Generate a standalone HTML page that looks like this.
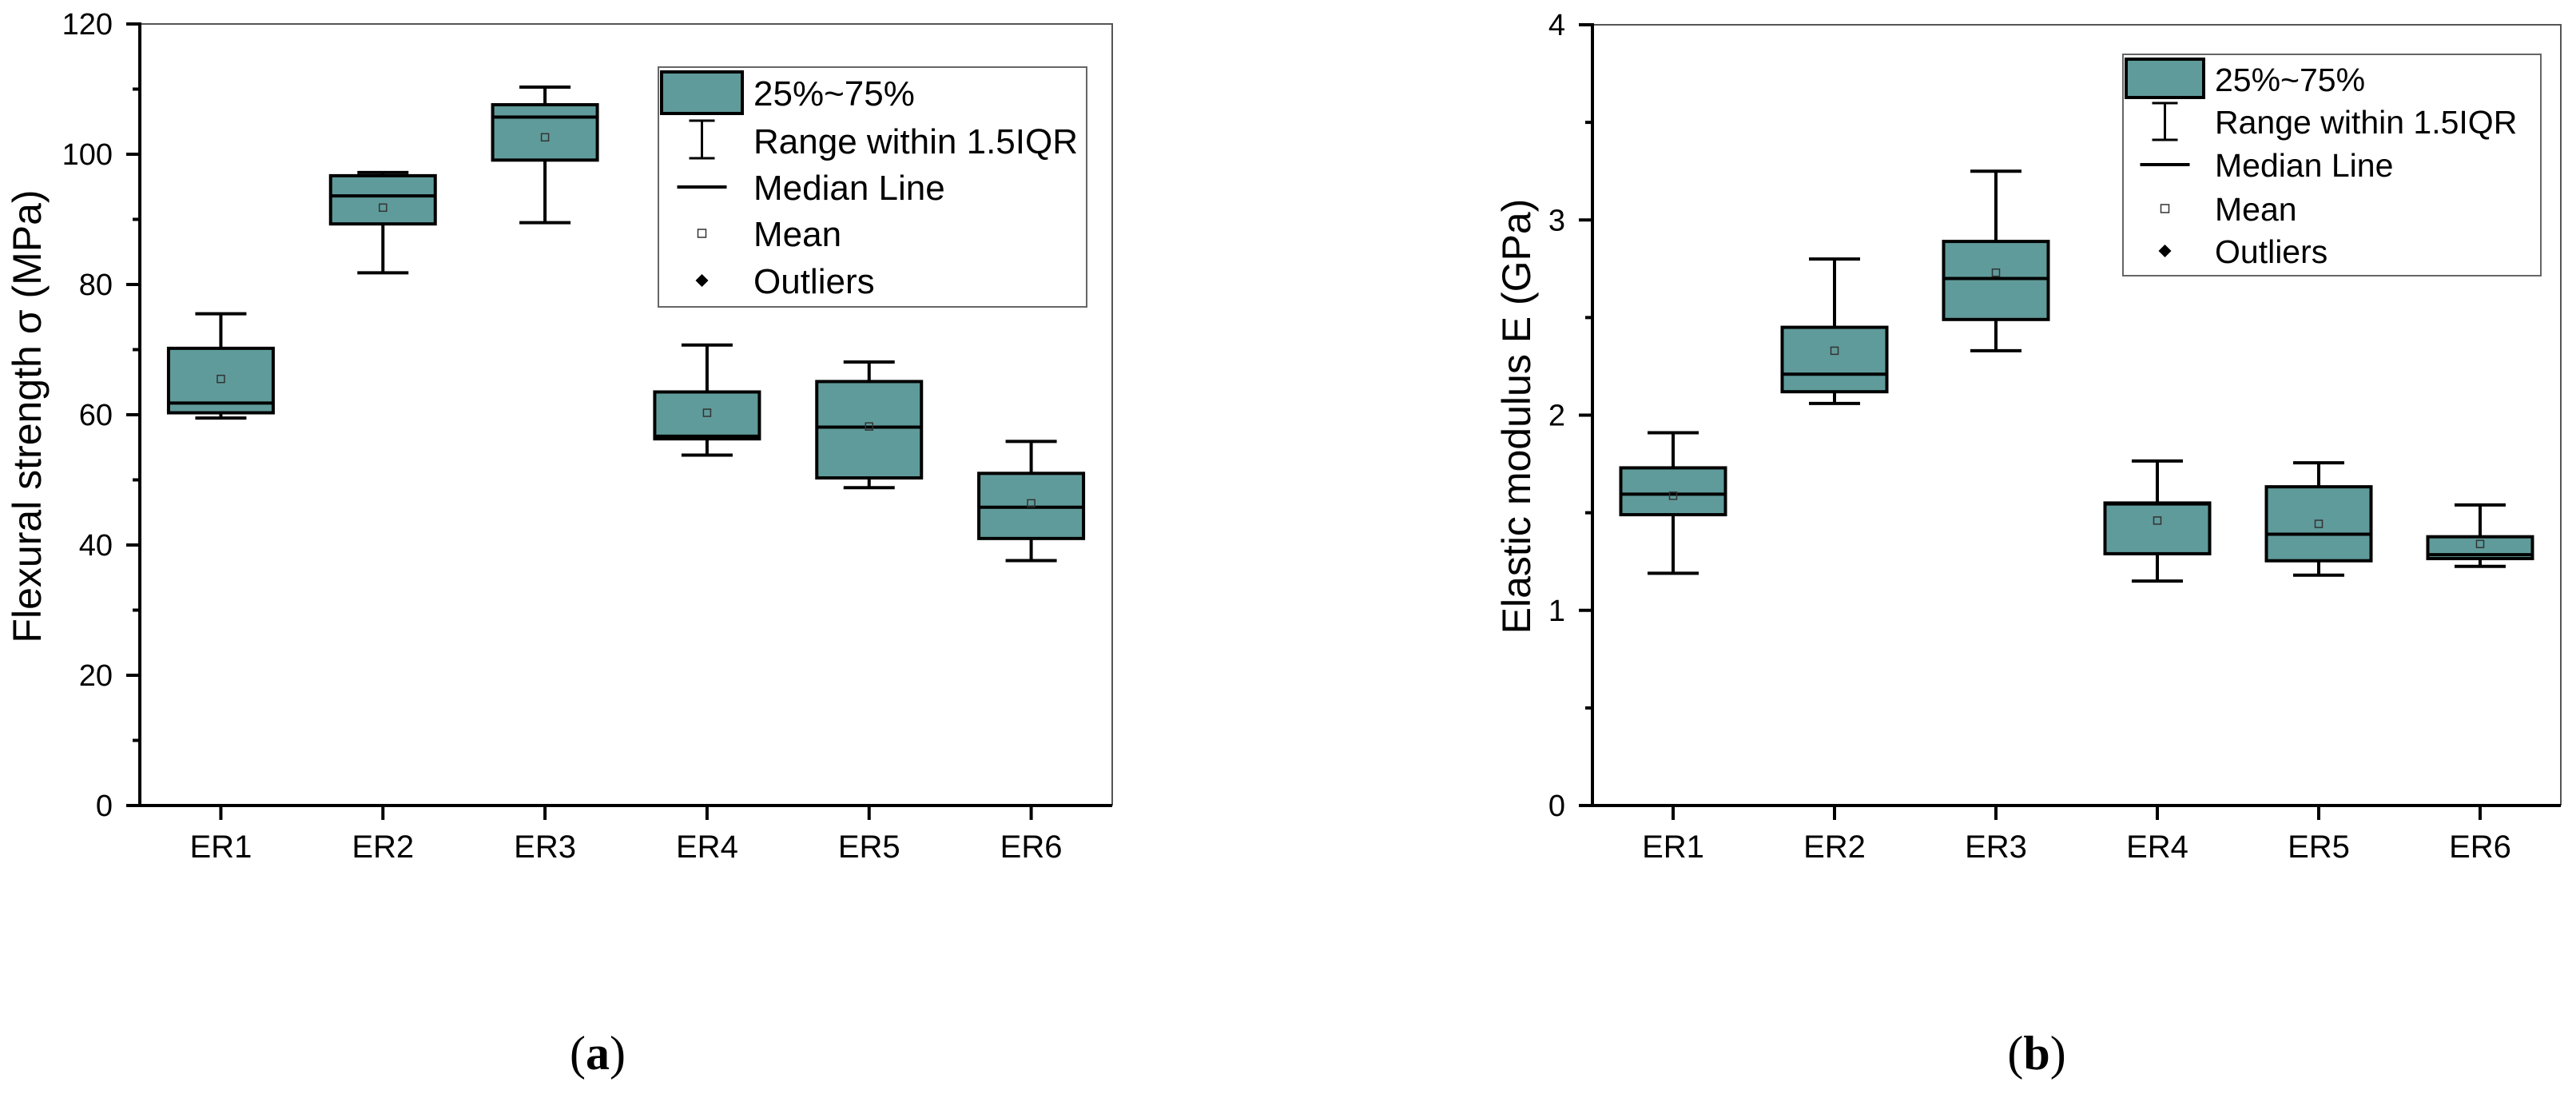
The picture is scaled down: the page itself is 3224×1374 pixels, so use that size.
<!DOCTYPE html>
<html><head><meta charset="utf-8"><style>
html,body{margin:0;padding:0;background:#fff;}
svg{display:block;font-family:"Liberation Sans",Arial,sans-serif;}
</style></head><body>
<svg id="fig" width="3224" height="1374" viewBox="0 0 3224 1374" xmlns="http://www.w3.org/2000/svg">
<g id="chartA"></g>
<g id="chartB"></g>
<text x="748" y="1338" font-family="Liberation Serif,serif" font-size="60" text-anchor="middle">(<tspan font-weight="bold">a</tspan>)</text>
<text x="2549" y="1338" font-family="Liberation Serif,serif" font-size="60" text-anchor="middle">(<tspan font-weight="bold">b</tspan>)</text>
</svg>
<script>
const categories = ["ER1","ER2","ER3","ER4","ER5","ER6"];
// Flexural strength (MPa)
const aWhiskerLow  = [59.5, 81.8, 89.5, 53.8, 48.8, 37.6];
const aQ1          = [60.3, 89.3, 99.1, 56.3, 50.3, 41.0];
const aMedian      = [61.8, 93.6, 105.7, 56.7, 58.1, 45.8];
const aQ3          = [70.2, 96.7, 107.6, 63.5, 65.1, 51.0];
const aWhiskerHigh = [75.5, 97.2, 110.3, 70.7, 68.1, 55.9];
const aMean        = [65.5, 91.8, 102.6, 60.3, 58.2, 46.4];
const aTicks = [0,20,40,60,80,100,120];
// Elastic modulus (GPa)
const bWhiskerLow  = [1.19, 2.06, 2.33, 1.15, 1.18, 1.225];
const bQ1          = [1.49, 2.12, 2.49, 1.29, 1.254, 1.265];
const bMedian      = [1.595, 2.21, 2.70, 1.545, 1.39, 1.285];
const bQ3          = [1.73, 2.45, 2.89, 1.55, 1.633, 1.377];
const bWhiskerHigh = [1.91, 2.80, 3.25, 1.765, 1.756, 1.54];
const bMean        = [1.587, 2.33, 2.73, 1.46, 1.443, 1.34];
const bTicks = [0,1,2,3,4];
const legendLabels = ["25%~75%","Range within 1.5IQR","Median Line","Mean","Outliers"];

const NS="http://www.w3.org/2000/svg";
function mk(parent,tag,attrs,text){const e=document.createElementNS(NS,tag);for(const k in attrs)e.setAttribute(k,attrs[k]);if(text!==undefined)e.textContent=text;parent.appendChild(e);return e;}

function drawChart(g,cfg){
  const {x0,x1,y0,y1,max,ticks,minorStep,title,titleX,lo,q1,med,q3,hi,mean,legend}=cfg;
  const n=categories.length, band=(x1-x0)/n;
  const xS=i=>x0+band*(i+0.5);
  const yS=v=>y0-(v/max)*(y0-y1);
  // frame top/right
  let e=mk(g,'path',{d:`M${x0} ${y1}H${x1}V${y0}`,fill:'none',stroke:'#555',"stroke-width":2});
  
  // boxes
  for(let i=0;i<n;i++){
    const cx=xS(i), bw=131, cw=64;
    const bg=mk(g,'g',{});
    
    
    mk(bg,'line',{x1:cx,x2:cx,y1:yS(hi[i]),y2:yS(q3[i]),stroke:'#000','stroke-width':4});
    mk(bg,'line',{x1:cx,x2:cx,y1:yS(q1[i]),y2:yS(lo[i]),stroke:'#000','stroke-width':4});
    mk(bg,'line',{x1:cx-cw/2,x2:cx+cw/2,y1:yS(hi[i]),y2:yS(hi[i]),stroke:'#000','stroke-width':4});
    mk(bg,'line',{x1:cx-cw/2,x2:cx+cw/2,y1:yS(lo[i]),y2:yS(lo[i]),stroke:'#000','stroke-width':4});
    mk(bg,'rect',{x:cx-bw/2,y:yS(q3[i]),width:bw,height:yS(q1[i])-yS(q3[i]),fill:'#5f9b9a',stroke:'#000','stroke-width':4});
    mk(bg,'line',{x1:cx-bw/2,x2:cx+bw/2,y1:yS(med[i]),y2:yS(med[i]),stroke:'#000','stroke-width':4});
    mk(bg,'rect',{x:cx-4.5,y:yS(mean[i])-4.5,width:9,height:9,fill:'none',stroke:'#333','stroke-width':1.5});
  }
  // axes
  e=mk(g,'line',{x1:x0,x2:x0,y1:y1-2,y2:y0+2,stroke:'#000','stroke-width':4});
  
  e=mk(g,'line',{x1:x0-17,x2:x1,y1:y0,y2:y0,stroke:'#000','stroke-width':4});
  
  ticks.forEach(t=>{
    const y=yS(t);
    mk(g,'line',{x1:x0-17,x2:x0,y1:y,y2:y,stroke:'#000','stroke-width':4});
    const tl=mk(g,'text',{x:x0-34,y:y+13,'font-size':38,'text-anchor':'end'},String(t));
    
  });
  for(let v=minorStep;v<max;v+=minorStep*2){const y=yS(v);mk(g,'line',{x1:x0-9,x2:x0,y1:y,y2:y,stroke:'#000','stroke-width':4});}
  categories.forEach((c,i)=>{
    mk(g,'line',{x1:xS(i),x2:xS(i),y1:y0,y2:y0+18,stroke:'#000','stroke-width':4});
    const cl=mk(g,'text',{x:xS(i),y:1073,'font-size':40,'text-anchor':'middle'},c);
    
  });
  const tt=mk(g,'text',{x:titleX,y:521,'font-size':50,'text-anchor':'middle',transform:`rotate(-90 ${titleX} 521)`,dy:17},title);
  
  // legend
  const L=legend;
  const lg=mk(g,'g',{});
  
  mk(lg,'rect',{x:L.x,y:L.y,width:L.w,height:L.h,fill:'#fff',stroke:'#666','stroke-width':2});
  mk(lg,'rect',{x:L.sx,y:L.sy,width:L.sw,height:L.sh,fill:'#5f9b9a',stroke:'#000','stroke-width':4});
  const c=L.sx+L.sw/2;
  mk(lg,'line',{x1:c,x2:c,y1:L.wy1,y2:L.wy2,stroke:'#000','stroke-width':3});
  mk(lg,'line',{x1:c-16,x2:c+16,y1:L.wy1,y2:L.wy1,stroke:'#000','stroke-width':3});
  mk(lg,'line',{x1:c-16,x2:c+16,y1:L.wy2,y2:L.wy2,stroke:'#000','stroke-width':3});
  mk(lg,'line',{x1:c-31,x2:c+31,y1:L.rows[2],y2:L.rows[2],stroke:'#000','stroke-width':4});
  mk(lg,'rect',{x:c-5,y:L.rows[3]-5,width:10,height:10,fill:'none',stroke:'#333','stroke-width':1.5});
  mk(lg,'path',{d:`M${c} ${L.rows[4]-8}L${c+8} ${L.rows[4]}L${c} ${L.rows[4]+8}L${c-8} ${L.rows[4]}Z`,fill:'#000'});
  legendLabels.forEach((t,i)=>{
    const le=mk(lg,'text',{x:L.tx,y:L.rows[i]+L.fs*0.36,'font-size':L.fs},t);
    
  });
}
drawChart(document.getElementById('chartA'),{x0:175,x1:1392,y0:1008,y1:30,max:120,ticks:aTicks,minorStep:10,
  title:"Flexural strength σ (MPa)",titleX:34,lo:aWhiskerLow,q1:aQ1,med:aMedian,q3:aQ3,hi:aWhiskerHigh,mean:aMean,
  legend:{x:824,y:84,w:536,h:300,sx:828,sy:90,sw:101,sh:52,wy1:151,wy2:198,tx:943,fs:44,rows:[116,176,234,292,351]}});
drawChart(document.getElementById('chartB'),{x0:1993,x1:3205,y0:1008,y1:31,max:4,ticks:bTicks,minorStep:0.5,
  title:"Elastic modulus E (GPa)",titleX:1898,lo:bWhiskerLow,q1:bQ1,med:bMedian,q3:bQ3,hi:bWhiskerHigh,mean:bMean,
  legend:{x:2657,y:68,w:523,h:277,sx:2661,sy:74,sw:97,sh:48,wy1:129,wy2:175,tx:2772,fs:41,rows:[99,152,206,261,314]}});
</script>
</body></html>
